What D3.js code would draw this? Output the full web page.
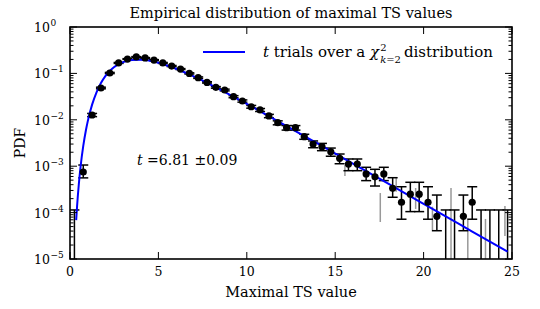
<!DOCTYPE html>
<html>
<head>
<meta charset="utf-8">
<script src="https://cdn.jsdelivr.net/npm/d3@7"></script>
<style>
body { margin: 0; background: #fff; }
svg, svg text, svg tspan { font-family: "DejaVu Serif", "Liberation Serif", serif; }
</style>
</head>
<body>
<svg id="chart"></svg>
<script>
const width = 540;
const height = 309;
const svg = d3.select('#chart').attr('width', width).attr('height', height)
  .attr('font-family', '"DejaVu Serif", serif');

const margin = { top: 27, right: 28, bottom: 50, left: 70 };
const innerW = width - margin.left - margin.right;
const innerH = height - margin.top - margin.bottom;

// histogram bins (centres) and measured PDF, with error bar ends
const binCenters = [0.25, 0.75, 1.25, 1.75, 2.25, 2.75, 3.25, 3.75, 4.25, 4.75,
  5.25, 5.75, 6.25, 6.75, 7.25, 7.75, 8.25, 8.75, 9.25, 9.75,
  10.25, 10.75, 11.25, 11.75, 12.25, 12.75, 13.25, 13.75, 14.25, 14.75,
  15.25, 15.75, 16.25, 16.75, 17.25, 17.75, 18.25, 18.75, 19.25, 19.75,
  20.25, 20.75, 21.25, 21.75, 22.25, 22.75, 23.25, 23.75, 24.25, 24.75];
const pdfValues = [0, 7.5e-4, 0.0127, 0.0485, 0.102, 0.168, 0.204, 0.226, 0.215, 0.194,
  0.168, 0.144, 0.124, 0.100, 0.081, 0.064, 0.050, 0.0439, 0.0315, 0.0254,
  0.0191, 0.0163, 0.0121, 0.00867, 0.00676, 0.00676, 0.00432, 0.00301, 0.00263, 0.00205,
  0.00148, 0.00111, 0.00111, 6.8e-4, 5.9e-4, 6.8e-4, 3.34e-4, 1.67e-4, 2.5e-4, 2.5e-4,
  1.67e-4, 8.3e-5, 0, 0, 8.3e-5, 1.67e-4, 0, 0, 0, 0];
const errLow = [0, 5.6e-4, 0.0117, 0.0466, 0.099, 0.164, 0.200, 0.222, 0.211, 0.190,
  0.164, 0.140, 0.121, 0.097, 0.078, 0.062, 0.048, 0.042, 0.0299, 0.0240,
  0.0178, 0.0151, 0.0111, 0.0078, 0.0060, 0.0060, 0.0038, 0.0025, 0.00216, 0.00164,
  0.00113, 0.0008, 0.0008, 4.89e-4, 3.74e-4, 4.89e-4, 2.14e-4, 7.2e-5, 1.05e-4, 1.05e-4,
  7.2e-5, 4.07e-5, 0, 0, 4.07e-5, 7.2e-5, 0, 0, 0, 0];
const errHigh = [1.14e-4, 1.06e-3, 0.0137, 0.0504, 0.105, 0.172, 0.208, 0.230, 0.219, 0.198,
  0.172, 0.148, 0.127, 0.103, 0.084, 0.066, 0.052, 0.0458, 0.0331, 0.0268,
  0.0204, 0.0175, 0.0131, 0.0095, 0.0075, 0.0075, 0.00487, 0.0035, 0.0031, 0.00246,
  0.00183, 0.00143, 0.00143, 9.47e-4, 8.57e-4, 9.47e-4, 5.65e-4, 3.61e-4, 4.5e-4, 4.5e-4,
  3.61e-4, 2.39e-4, 1.14e-4, 1.14e-4, 2.39e-4, 3.61e-4, 1.14e-4, 1.14e-4, 1.14e-4, 1.14e-4];

// faint grey error bars of the second binning
const greyX = [15.55, 17.55, 18.45, 19.55, 20.5, 21.55, 22.5, 23.5, 24.6];
const greyLow = [6.15e-4, 6.27e-5, 2.82e-4, 1.2e-4, 4.2e-5, 0, 0, 0, 3.13e-5];
const greyHigh = [1.06e-3, 2.64e-4, 5.57e-4, 3.39e-4, 1.34e-4, 3.39e-4, 6.9e-5, 7.3e-5, 1.39e-4];

// model curve: t trials over chi2(k=2)
const curveX = [0.35, 0.4, 0.5, 0.6, 0.75, 0.9, 1.0, 1.25, 1.5, 1.75, 2, 2.25, 2.5, 3, 3.5, 4,
  4.5, 5, 6, 7, 8, 9, 10, 12, 14, 16, 18, 20, 22, 24, 24.75];
const curveY = [6.9e-5, 1.37e-4, 4.14e-4, 9.9e-4, 2.73e-3, 5.97e-3, 9.15e-3, 0.0212, 0.0392, 0.0618,
  0.0872, 0.113, 0.1373, 0.1753, 0.1952, 0.198, 0.1879, 0.170, 0.126, 0.0861,
  0.0560, 0.03545, 0.02206, 0.00832, 0.003089, 0.00114, 4.2e-4, 1.546e-4, 5.69e-5, 2.09e-5, 1.44e-5];

const xTicks = [0, 5, 10, 15, 20, 25];
const yExps = [0, -1, -2, -3, -4, -5];

const x = d3.scaleLinear().domain([0, 25]).range([0, innerW]);
const y = d3.scaleLog().domain([1e-5, 1]).range([innerH, 0]);
const yc = v => v <= 0 ? innerH + 5 : y(v);

const g = svg.append('g').attr('transform', `translate(${margin.left},${margin.top})`);

g.append('clipPath').attr('id', 'clip')
  .append('rect').attr('width', innerW).attr('height', innerH);
const plot = g.append('g').attr('clip-path', 'url(#clip)');

// grey bars
plot.selectAll('.grey').data(greyX).enter().append('line')
  .attr('x1', d => x(d)).attr('x2', d => x(d))
  .attr('y1', (d, i) => yc(greyLow[i])).attr('y2', (d, i) => yc(greyHigh[i]))
  .attr('stroke', '#999').attr('stroke-width', 1.5);

// black error bars
const bins = binCenters.map((c, i) => ({ c, v: pdfValues[i], lo: errLow[i], hi: errHigh[i] }));
const eb = plot.selectAll('.eb').data(bins).enter().append('g').attr('class', 'eb');
eb.append('line')
  .attr('x1', d => x(d.c)).attr('x2', d => x(d.c))
  .attr('y1', d => yc(d.lo)).attr('y2', d => yc(d.hi))
  .attr('stroke', '#000').attr('stroke-width', 1.5);
eb.append('line')
  .attr('x1', d => x(d.c) - 5).attr('x2', d => x(d.c) + 5)
  .attr('y1', d => yc(d.hi)).attr('y2', d => yc(d.hi))
  .attr('stroke', '#000').attr('stroke-width', 1.5);
eb.filter(d => d.lo > 0).append('line')
  .attr('x1', d => x(d.c) - 5).attr('x2', d => x(d.c) + 5)
  .attr('y1', d => yc(d.lo)).attr('y2', d => yc(d.lo))
  .attr('stroke', '#000').attr('stroke-width', 1.5);

// model curve
const line = d3.line().x(d => x(d[0])).y(d => y(d[1])).curve(d3.curveMonotoneX);
plot.append('path')
  .datum(curveX.map((v, i) => [v, curveY[i]]))
  .attr('d', line)
  .attr('fill', 'none').attr('stroke', '#0000ff').attr('stroke-width', 2);

// dots
plot.selectAll('.dot').data(bins.filter(d => d.v > 0)).enter().append('circle')
  .attr('cx', d => x(d.c)).attr('cy', d => y(d.v)).attr('r', 3.6)
  .attr('fill', '#000');

// frame
g.append('rect').attr('width', innerW).attr('height', innerH)
  .attr('fill', 'none').attr('stroke', '#000').attr('stroke-width', 1.6);

// x ticks (inward, bottom & top)
xTicks.forEach(t => {
  g.append('line').attr('x1', x(t)).attr('x2', x(t)).attr('y1', innerH).attr('y2', innerH - 7)
    .attr('stroke', '#000').attr('stroke-width', 1);
  g.append('line').attr('x1', x(t)).attr('x2', x(t)).attr('y1', 0).attr('y2', 7)
    .attr('stroke', '#000').attr('stroke-width', 1);
  g.append('text').attr('x', x(t)).attr('y', innerH + 17)
    .attr('text-anchor', 'middle').style('font-size', '12.5px').text(t);
});

// y ticks, major + minor, both sides
const minor = [];
for (let e = -5; e < 0; e++) for (let m = 2; m <= 9; m++) minor.push(m * Math.pow(10, e));
minor.forEach(v => {
  g.append('line').attr('x1', 0).attr('x2', 3.5).attr('y1', y(v)).attr('y2', y(v))
    .attr('stroke', '#000').attr('stroke-width', 1);
  g.append('line').attr('x1', innerW).attr('x2', innerW - 3.5).attr('y1', y(v)).attr('y2', y(v))
    .attr('stroke', '#000').attr('stroke-width', 1);
});
yExps.forEach(e => {
  const v = Math.pow(10, e);
  g.append('line').attr('x1', 0).attr('x2', 7).attr('y1', y(v)).attr('y2', y(v))
    .attr('stroke', '#000').attr('stroke-width', 1);
  g.append('line').attr('x1', innerW).attr('x2', innerW - 7).attr('y1', y(v)).attr('y2', y(v))
    .attr('stroke', '#000').attr('stroke-width', 1);
  g.append('text').attr('x', -20).attr('y', y(v) + 5)
    .attr('text-anchor', 'end').style('font-size', '12.5px').text('10');
  g.append('text').attr('x', -19.5).attr('y', y(v) - 1)
    .style('font-size', '9px').text(e === 0 ? '0' : '\u2212' + (-e));
});

// title and axis labels
svg.append('text').attr('x', margin.left + innerW / 2).attr('y', 18)
  .attr('text-anchor', 'middle').style('font-size', '14.5px')
  .text('Empirical distribution of maximal TS values');
svg.append('text').attr('x', margin.left + innerW / 2).attr('y', 297)
  .attr('text-anchor', 'middle').style('font-size', '14.5px').text('Maximal TS value');
svg.append('text').attr('transform', `translate(25,${margin.top + innerH / 2}) rotate(-90)`)
  .attr('text-anchor', 'middle').style('font-size', '14px').text('PDF');

// annotation
const ann = svg.append('text').attr('x', 137).attr('y', 165).style('font-size', '14px');
ann.append('tspan').style('font-style', 'italic').text('t');
ann.append('tspan').text(' =6.81 \u00b10.09');

// legend
svg.append('line').attr('x1', 203).attr('x2', 245).attr('y1', 52).attr('y2', 52)
  .attr('stroke', '#0000ff').attr('stroke-width', 2);
const leg = svg.append('text').attr('x', 263).attr('y', 57).style('font-size', '15px');
leg.append('tspan').style('font-style', 'italic').text('t');
leg.append('tspan').text(' trials over a ');
leg.append('tspan').style('font-style', 'italic').text('\u03c7');
const legEnd = 263 + leg.node().getComputedTextLength();
svg.append('text').attr('x', legEnd + 1).attr('y', 51).style('font-size', '10px').text('2');
const sub = svg.append('text').attr('x', legEnd + 1).attr('y', 63).style('font-size', '10px');
sub.append('tspan').style('font-style', 'italic').text('k');
sub.append('tspan').text('=2');
const subEnd = legEnd + 1 + sub.node().getComputedTextLength();
svg.append('text').attr('x', subEnd + 3).attr('y', 57).style('font-size', '15px').text('distribution');
</script>
</body>
</html>
